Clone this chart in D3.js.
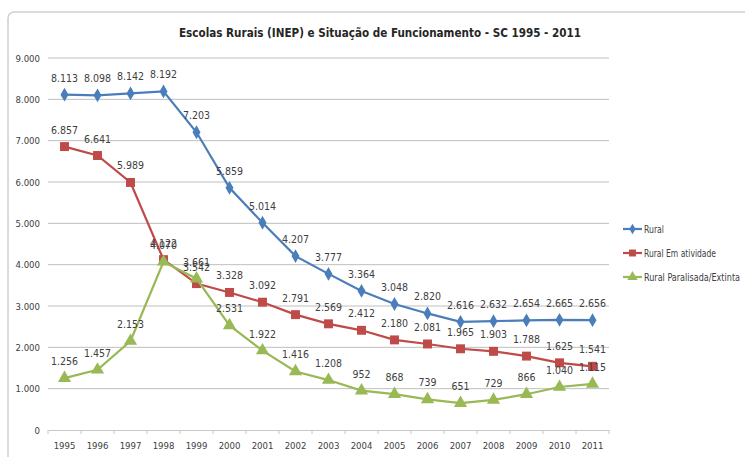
<!DOCTYPE html>
<html lang="pt">
<head>
<meta charset="UTF-8">
<title>Escolas Rurais SC</title>
<script src="https://cdn.jsdelivr.net/npm/d3@7"></script>
<style>
  body { margin: 0; background: #fff; }
  svg text { font-family: "DejaVu Sans Condensed", "Liberation Sans Narrow", sans-serif; font-stretch: condensed; }
</style>
</head>
<body>
<div id="chart"></div>
<script>
// data
var years = ["1995","1996","1997","1998","1999","2000","2001","2002","2003","2004","2005","2006","2007","2008","2009","2010","2011"];
var rural = [8113, 8098, 8142, 8192, 7203, 5859, 5014, 4207, 3777, 3364, 3048, 2820, 2616, 2632, 2654, 2665, 2656];
var emAtividade = [6857, 6641, 5989, 4122, 3542, 3328, 3092, 2791, 2569, 2412, 2180, 2081, 1965, 1903, 1788, 1625, 1541];
var paralisada = [1256, 1457, 2153, 4070, 3661, 2531, 1922, 1416, 1208, 952, 868, 739, 651, 729, 866, 1040, 1115];
var yTicks = [0, 1000, 2000, 3000, 4000, 5000, 6000, 7000, 8000, 9000];

var series = [
  {name: "Rural", values: rural, color: "#4a7ebb", shape: d3.symbolDiamond, size: 55},
  {name: "Rural Em atividade", values: emAtividade, color: "#be4b48", shape: d3.symbolSquare, size: 80},
  {name: "Rural Paralisada/Extinta", values: paralisada, color: "#98b954", shape: d3.symbolTriangle, size: 75}
];

var W = 745, H = 457;
var fmt = d3.formatLocale({decimal: ",", thousands: ".", grouping: [3], currency: ["", ""]}).format(",d");

var svg = d3.select("#chart").append("svg")
  .attr("width", W).attr("height", H);

// chart frame
svg.append("rect")
  .attr("x", 8).attr("y", 12).attr("width", 760).attr("height", 470)
  .attr("rx", 6)
  .attr("fill", "#fff").attr("stroke", "#d0d0d0").attr("stroke-width", 1.5);

svg.append("text")
  .attr("x", 380).attr("y", 37)
  .attr("text-anchor", "middle")
  .attr("font-size", 13).attr("font-weight", "bold")
  .attr("fill", "#262626")
  .attr("textLength", 402).attr("lengthAdjust", "spacingAndGlyphs")
  .text("Escolas Rurais (INEP) e Situação de Funcionamento - SC 1995 - 2011");

var x = d3.scaleBand().domain(years).range([48, 609]);
var y = d3.scaleLinear().domain([0, 9000]).range([430, 58]);
var cx = function (d, i) { return x(years[i]) + x.bandwidth() / 2; };

// gridlines
svg.append("g")
  .selectAll("line")
  .data(yTicks.filter(function (t) { return t > 0; }))
  .enter().append("line")
    .attr("x1", 48).attr("x2", 609)
    .attr("y1", function (d) { return y(d); })
    .attr("y2", function (d) { return y(d); })
    .attr("stroke", "#bfbfbf").attr("stroke-width", 1);

// y axis
var yAxis = svg.append("g")
  .attr("transform", "translate(48,0)")
  .call(d3.axisLeft(y).tickValues(yTicks).tickFormat(fmt).tickSize(0).tickPadding(8));
yAxis.select(".domain").remove();
yAxis.selectAll("text").attr("font-size", 9.5).attr("fill", "#404040")
  .style("font-family", "'DejaVu Sans Condensed', sans-serif");

// x axis
var xAxis = svg.append("g")
  .attr("transform", "translate(0,430)")
  .call(d3.axisBottom(x).tickSize(0).tickPadding(12));
xAxis.select(".domain").attr("stroke", "#c8c8c8");
xAxis.selectAll("text").attr("font-size", 9.5).attr("fill", "#404040")
  .style("font-family", "'DejaVu Sans Condensed', sans-serif");
xAxis.selectAll(".tickmark")
  .data(years.concat(["end"]))
  .enter().append("line")
    .attr("x1", function (d, i) { return 48 + i * x.bandwidth(); })
    .attr("x2", function (d, i) { return 48 + i * x.bandwidth(); })
    .attr("y1", 0).attr("y2", 4)
    .attr("stroke", "#c8c8c8");

var line = d3.line()
  .x(cx)
  .y(function (d) { return y(d); });

series.forEach(function (s) {
  var g = svg.append("g");
  g.append("path")
    .datum(s.values)
    .attr("d", line)
    .attr("fill", "none")
    .attr("stroke", s.color)
    .attr("stroke-width", 2.2);
  g.selectAll(".m")
    .data(s.values)
    .enter().append("path")
      .attr("transform", function (d, i) { return "translate(" + cx(d, i) + "," + y(d) + ")"; })
      .attr("d", d3.symbol().type(s.shape).size(s.size))
      .attr("fill", s.color);
});

// data labels
series.forEach(function (s) {
  svg.append("g")
    .selectAll("text")
    .data(s.values)
    .enter().append("text")
      .attr("x", cx)
      .attr("y", function (d) { return y(d) - 13; })
      .attr("text-anchor", "middle")
      .attr("font-size", 10.5)
      .attr("fill", "#404040")
      .text(function (d) { return fmt(d); });
});

// legend
var legend = svg.append("g")
  .selectAll("g")
  .data(series)
  .enter().append("g")
    .attr("transform", function (d, i) { return "translate(623," + (229 + i * 24) + ")"; });
legend.append("line")
  .attr("x1", 0).attr("x2", 19)
  .attr("stroke", function (d) { return d.color; })
  .attr("stroke-width", 2.2);
legend.append("path")
  .attr("transform", "translate(9.5,0)")
  .attr("d", function (d) { return d3.symbol().type(d.shape).size(d.size * 0.6)(); })
  .attr("fill", function (d) { return d.color; });
legend.append("text")
  .attr("x", 21).attr("y", 4)
  .attr("font-size", 10)
  .attr("fill", "#404040")
  .attr("textLength", function (d) { return d.name.length * 4.0; })
  .attr("lengthAdjust", "spacingAndGlyphs")
  .text(function (d) { return d.name; });
</script>
</body>
</html>
